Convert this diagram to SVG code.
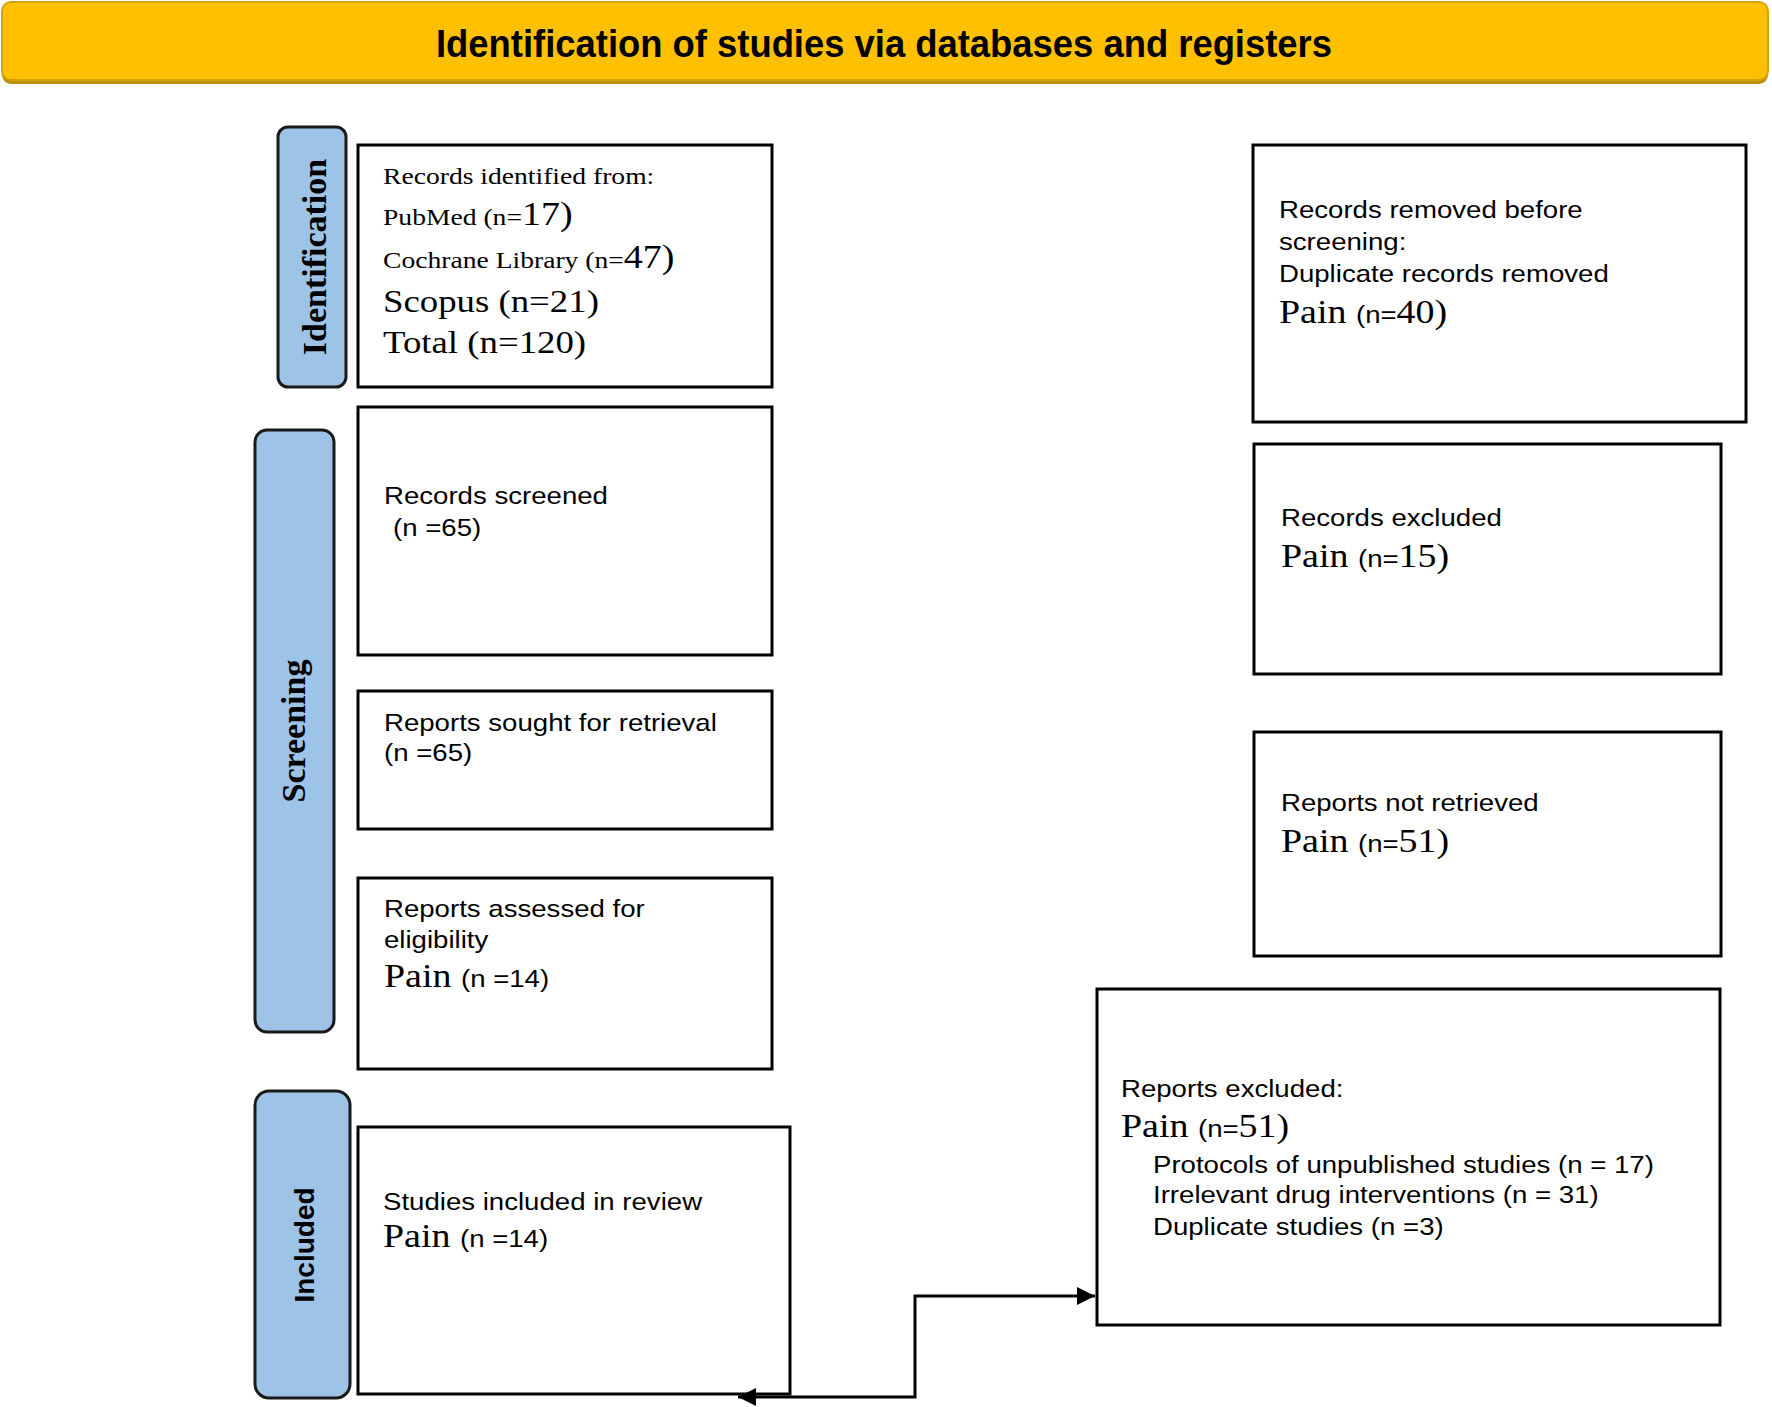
<svg xmlns="http://www.w3.org/2000/svg" width="1772" height="1407" viewBox="0 0 1772 1407">
<style>
.box{fill:#fff;stroke:#000;stroke-width:3}
.side{fill:#9DC3E6;stroke:#1a1a1a;stroke-width:3}
.a{font-family:"Liberation Sans",Arial,sans-serif;font-size:24px;fill:#000}
.t{font-family:"Liberation Serif","Times New Roman",serif;fill:#000}
.lbl{font-family:"Liberation Serif","Times New Roman",serif;font-weight:bold;font-size:34px;text-anchor:middle}
.conn{fill:none;stroke:#000;stroke-width:3}
</style>
<defs>
<marker id="ah" viewBox="0 0 10 10" refX="10" refY="5" markerWidth="20" markerHeight="18" markerUnits="userSpaceOnUse" orient="auto-start-reverse">
<path d="M0,0 L10,5 L0,10 z" fill="#000"/>
</marker>
</defs>
<rect width="1772" height="1407" fill="#fff"/>

<g id="header">
<rect x="2" y="4" width="1766" height="80" rx="9" fill="#B8900A"/>
<rect x="2" y="2" width="1766" height="78" rx="9" fill="#FFC000" stroke="#D4A20A" stroke-width="2"/>
<text x="884" y="57" text-anchor="middle" font-family="'Liberation Sans Narrow','Liberation Sans',Arial,sans-serif" font-weight="bold" font-size="38" textLength="896" lengthAdjust="spacingAndGlyphs">Identification of studies via databases and registers</text>
</g>

<g id="label-identification">
<rect class="side" x="278" y="127" width="68" height="260" rx="10"/>
<text class="lbl" transform="translate(326,257) rotate(-90)">Identification</text>
</g>
<g id="label-screening">
<rect class="side" x="255" y="430" width="79" height="602" rx="12"/>
<text class="lbl" transform="translate(305,731) rotate(-90)">Screening</text>
</g>
<g id="label-included">
<rect class="side" x="255" y="1091" width="95" height="307" rx="14"/>
<text transform="translate(314,1245) rotate(-90)" text-anchor="middle" font-family="'Liberation Sans',Arial,sans-serif" font-weight="bold" font-size="28">Included</text>
</g>

<g id="records-identified">
<rect class="box" x="358" y="145" width="414" height="242"/>
<text class="t" font-size="24" transform="translate(383,184) scale(1.15,1)">Records identified from:</text>
<text class="t" font-size="24" transform="translate(383,225) scale(1.15,1)">PubMed (n=<tspan font-size="33">17)</tspan></text>
<text class="t" font-size="24" transform="translate(383,268) scale(1.15,1)">Cochrane Library (n=<tspan font-size="33">47)</tspan></text>
<text class="t" font-size="32" transform="translate(383,312) scale(1.15,1)">Scopus (n=21)</text>
<text class="t" font-size="32" transform="translate(383,353) scale(1.15,1)">Total (n=120)</text>
</g>

<g id="records-removed">
<rect class="box" x="1253" y="145" width="493" height="277"/>
<text class="a" transform="translate(1279,218) scale(1.15,1)">Records removed before</text>
<text class="a" transform="translate(1279,250) scale(1.15,1)">screening:</text>
<text class="a" transform="translate(1279,282) scale(1.15,1)">Duplicate records removed</text>
<text class="t" font-size="33" transform="translate(1279,323) scale(1.15,1)">Pain <tspan class="a">(n=</tspan>40)</text>
</g>

<g id="records-screened">
<rect class="box" x="358" y="407" width="414" height="248"/>
<text class="a" transform="translate(384,504) scale(1.15,1)">Records screened</text>
<text class="a" transform="translate(393,536) scale(1.15,1)">(n =65)</text>
</g>

<g id="records-excluded">
<rect class="box" x="1254" y="444" width="467" height="230"/>
<text class="a" transform="translate(1281,526) scale(1.15,1)">Records excluded</text>
<text class="t" font-size="33" transform="translate(1281,567) scale(1.15,1)">Pain <tspan class="a">(n=</tspan>15)</text>
</g>

<g id="reports-sought">
<rect class="box" x="358" y="691" width="414" height="138"/>
<text class="a" transform="translate(384,731) scale(1.15,1)">Reports sought for retrieval</text>
<text class="a" transform="translate(384,761) scale(1.15,1)">(n =65)</text>
</g>

<g id="reports-not-retrieved">
<rect class="box" x="1254" y="732" width="467" height="224"/>
<text class="a" transform="translate(1281,811) scale(1.15,1)">Reports not retrieved</text>
<text class="t" font-size="33" transform="translate(1281,852) scale(1.15,1)">Pain <tspan class="a">(n=</tspan>51)</text>
</g>

<g id="reports-assessed">
<rect class="box" x="358" y="878" width="414" height="191"/>
<text class="a" transform="translate(384,917) scale(1.15,1)">Reports assessed for</text>
<text class="a" transform="translate(384,948) scale(1.15,1)">eligibility</text>
<text class="t" font-size="33" transform="translate(384,987) scale(1.15,1)">Pain <tspan class="a">(n =14)</tspan></text>
</g>

<g id="reports-excluded">
<rect class="box" x="1097" y="989" width="623" height="336"/>
<text class="a" transform="translate(1121,1097) scale(1.15,1)">Reports excluded:</text>
<text class="t" font-size="33" transform="translate(1121,1137) scale(1.15,1)">Pain <tspan class="a">(n=</tspan>51)</text>
<text class="a" transform="translate(1153,1173) scale(1.15,1)">Protocols of unpublished studies (n = 17)</text>
<text class="a" transform="translate(1153,1203) scale(1.15,1)">Irrelevant drug interventions (n = 31)</text>
<text class="a" transform="translate(1153,1235) scale(1.15,1)">Duplicate studies (n =3)</text>
</g>

<g id="studies-included">
<rect class="box" x="358" y="1127" width="432" height="267"/>
<text class="a" transform="translate(383,1210) scale(1.15,1)">Studies included in review</text>
<text class="t" font-size="33" transform="translate(383,1247) scale(1.15,1)">Pain <tspan class="a">(n =14)</tspan></text>
</g>

<g id="connectors">
<path class="conn" d="M1095,1296 H915 V1397 H738" marker-start="url(#ah)" marker-end="url(#ah)"/>
</g>
</svg>
